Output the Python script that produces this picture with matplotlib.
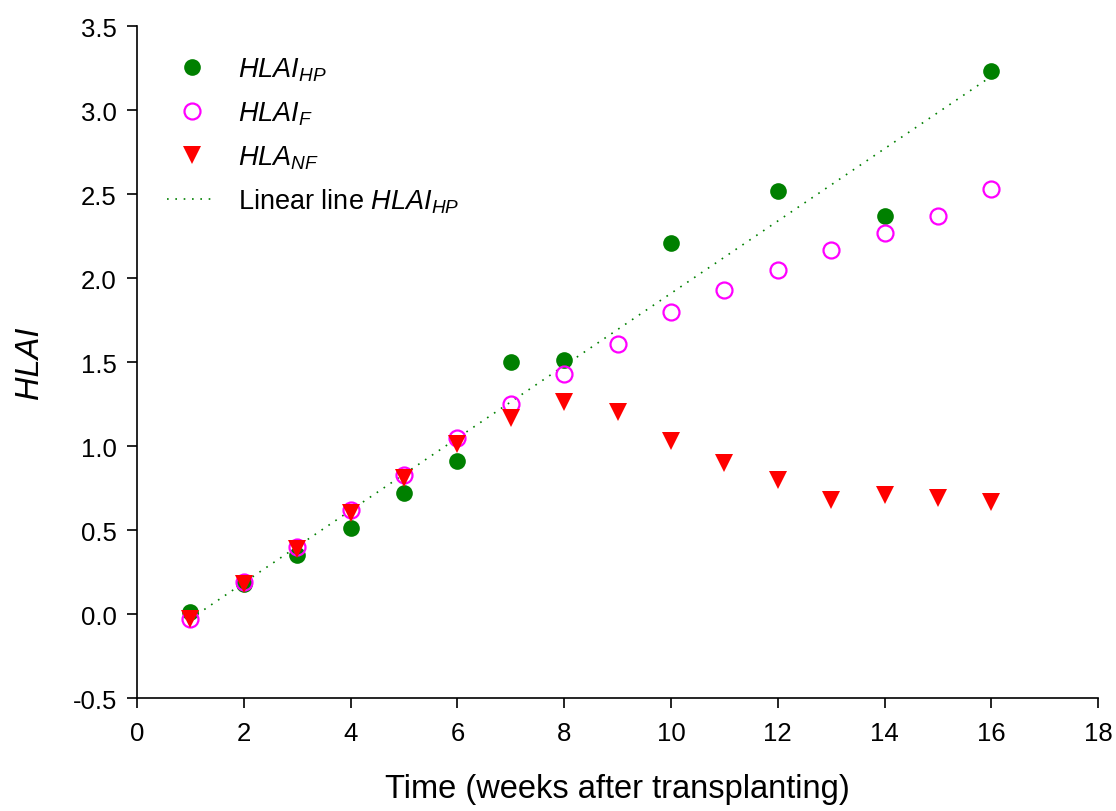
import numpy as np
import matplotlib
matplotlib.use("Agg")
import matplotlib.pyplot as plt

plt.rcParams['font.family'] = ['Liberation Sans', 'DejaVu Sans']
plt.rcParams['mathtext.fontset'] = 'custom'
plt.rcParams['mathtext.rm'] = 'Liberation Sans'
plt.rcParams['mathtext.it'] = 'Liberation Sans:italic'
plt.rcParams['mathtext.bf'] = 'Liberation Sans:bold'

# Harvest leaf area index over time
weeks_hp = [1, 2, 3, 4, 5, 6, 7, 8, 10, 12, 14, 16]
hlai_hp = [0.01, 0.18, 0.35, 0.51, 0.72, 0.91, 1.50, 1.51, 2.21, 2.52, 2.37, 3.23]

weeks_f = [1, 2, 3, 4, 5, 6, 7, 8, 9, 10, 11, 12, 13, 14, 15, 16]
hlai_f = [-0.03, 0.19, 0.40, 0.62, 0.83, 1.05, 1.25, 1.43, 1.61, 1.80, 1.93,
          2.05, 2.17, 2.27, 2.37, 2.53]

weeks_nf = [1, 2, 3, 4, 5, 6, 7, 8, 9, 10, 11, 12, 13, 14, 15, 16]
hla_nf = [-0.03, 0.18, 0.39, 0.60, 0.81, 1.01, 1.17, 1.26, 1.20, 1.03, 0.90,
          0.80, 0.68, 0.71, 0.69, 0.67]

xticks = [0, 2, 4, 6, 8, 10, 12, 14, 16, 18]
yticks = [-0.5, 0.0, 0.5, 1.0, 1.5, 2.0, 2.5, 3.0, 3.5]

fig = plt.figure(figsize=(11.16, 8.12), dpi=100)
ax = fig.add_axes([0.1228, 0.139, 0.8612, 0.8277])

ax.plot(weeks_hp, hlai_hp, 'o', color='#008000', markersize=12,
        markeredgewidth=0, label=r'$HLAI_{HP}$', zorder=3)
ax.plot(weeks_f, hlai_f, 'o', markerfacecolor='none', markeredgecolor='#ff00ff',
        markersize=11.5, markeredgewidth=1.6, label=r'$HLAI_{F}$', zorder=4)
ax.plot(weeks_nf, hla_nf, 'v', color='#ff0000', markersize=13,
        markeredgewidth=0, label=r'$HLA_{NF}$', zorder=5)

# linear fit of the HP series
coef = np.polyfit(weeks_hp, hlai_hp, 1)
xf = np.array([weeks_hp[0], weeks_hp[-1]])
ax.plot(xf, np.polyval(coef, xf), linestyle=(0, (1, 4)), color='#008000',
        linewidth=1.2, label=r'Linear line $HLAI_{HP}$', zorder=2)

ax.set_xlim(0, 18)
ax.set_ylim(-0.5, 3.5)
ax.set_xticks(xticks)
ax.set_yticks(yticks)
ax.set_xticklabels([str(t) for t in xticks])
ax.set_yticklabels([f'{t:.1f}' for t in yticks])
ax.tick_params(direction='out', length=7.5, width=1.2, labelsize=18.5)
ax.tick_params(axis='y', pad=7)
ax.tick_params(axis='x', pad=9)
for s in ('top', 'right'):
    ax.spines[s].set_visible(False)
for s in ('left', 'bottom'):
    ax.spines[s].set_linewidth(1.2)

ax.set_xlabel('Time (weeks after transplanting)', fontsize=23.5, labelpad=20)
ax.set_ylabel('HLAI', fontsize=23.5, fontstyle='italic', labelpad=20)

leg = ax.legend(loc='upper left', bbox_to_anchor=(0.02, 0.972), frameon=False,
                fontsize=19.5, handlelength=1.85, handletextpad=0.75,
                labelspacing=0.6, borderaxespad=0)

fig.savefig('out.png', dpi=100)
